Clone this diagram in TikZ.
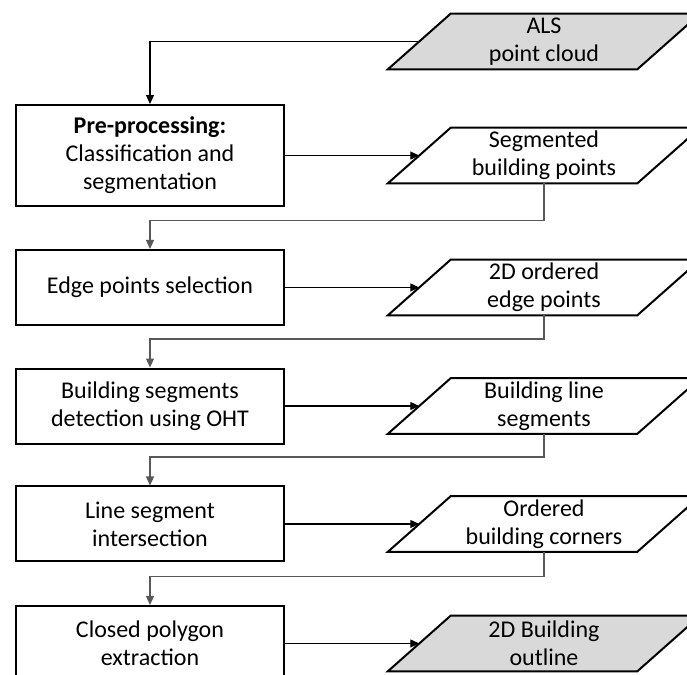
\documentclass[tikz,border=0pt]{standalone}
\usepackage{fontspec}
\setmainfont{Carlito}
\usepackage{xcolor}
\usetikzlibrary{arrows.meta,positioning,calc,backgrounds}
\definecolor{datagray}{RGB}{217,217,217}

\begin{document}
\begin{tikzpicture}[
  font=\fontsize{12}{14}\selectfont,
  procbox/.style={draw, line width=1pt, minimum width=4.71cm, minimum height=1.318cm, align=center, inner sep=2pt},
  databox/.style={minimum width=4.37cm, minimum height=0.967cm, align=center, inner sep=1pt},
  slanted/.style={line width=1pt, line join=miter},
  arrow/.style={-{Triangle[length=4.5pt,width=4pt]}, line width=0.6pt},
  backarrow/.style={arrow, draw=black!65},
]
\useasboundingbox (0,0) rectangle (12.073,-11.862);
\clip (0,0) rectangle (12.073,-11.862);

% --- Left: processing steps ---
\node[procbox, minimum height=1.775cm] (prep) at (2.636,-2.733) {\textbf{Pre-processing:}\\Classification and\\segmentation};
\node[procbox] (edgesel) at (2.636,-5.052) {Edge points selection};
\node[procbox] (oht) at (2.636,-7.135) {Building segments\\detection using OHT};
\node[procbox] (inter) at (2.636,-9.208) {Line segment\\intersection};
\node[procbox] (poly) at (2.636,-11.308) {Closed polygon\\extraction};

% --- Right: data ---
\node[databox] (als) at (9.56,-0.729) {ALS\\point cloud};
\node[databox] (segpts) at ($(prep.center)+(6.924,0)$) {Segmented\\building points};
\node[databox] (edgepts) at ($(edgesel.center)+(6.924,0)$) {2D ordered\\edge points};
\node[databox] (lines) at ($(oht.center)+(6.924,0)$) {Building line\\segments};
\node[databox] (corners) at ($(inter.center)+(6.924,0)$) {Ordered\\building corners};
\node[databox] (outline) at ($(poly.center)+(6.924,0)$) {2D Building\\outline};

% parallelogram outlines behind the data text
\begin{scope}[on background layer]
\foreach \n/\c in {als/datagray, segpts/white, edgepts/white, lines/white, corners/white, outline/datagray}
  \draw[slanted, fill=\c] ($(\n.south west)+(-0.554,0)$) -- ($(\n.north west)+(0.554,0)$)
    -- ($(\n.north east)+(0.554,0)$) -- ($(\n.south east)+(-0.554,0)$) -- cycle;
\end{scope}

% --- Steps to data ---
\draw[arrow] (als.west) -| (prep.north);
\draw[arrow] (prep.east) -- (segpts.west);
\draw[arrow] (edgesel.east) -- (edgepts.west);
\draw[arrow] (oht.east) -- (lines.west);
\draw[arrow] (inter.east) -- (corners.west);
\draw[arrow] (poly.east) -- (outline.west);

% --- Data back to next step ---
\draw[backarrow] (segpts.south) |- ($(edgesel.north)+(0,0.5)$) -- (edgesel.north);
\draw[backarrow] (edgepts.south) |- ($(oht.north)+(0,0.5)$) -- (oht.north);
\draw[backarrow] (lines.south) |- ($(inter.north)+(0,0.5)$) -- (inter.north);
\draw[backarrow] (corners.south) |- ($(poly.north)+(0,0.5)$) -- (poly.north);

\end{tikzpicture}
\end{document}
